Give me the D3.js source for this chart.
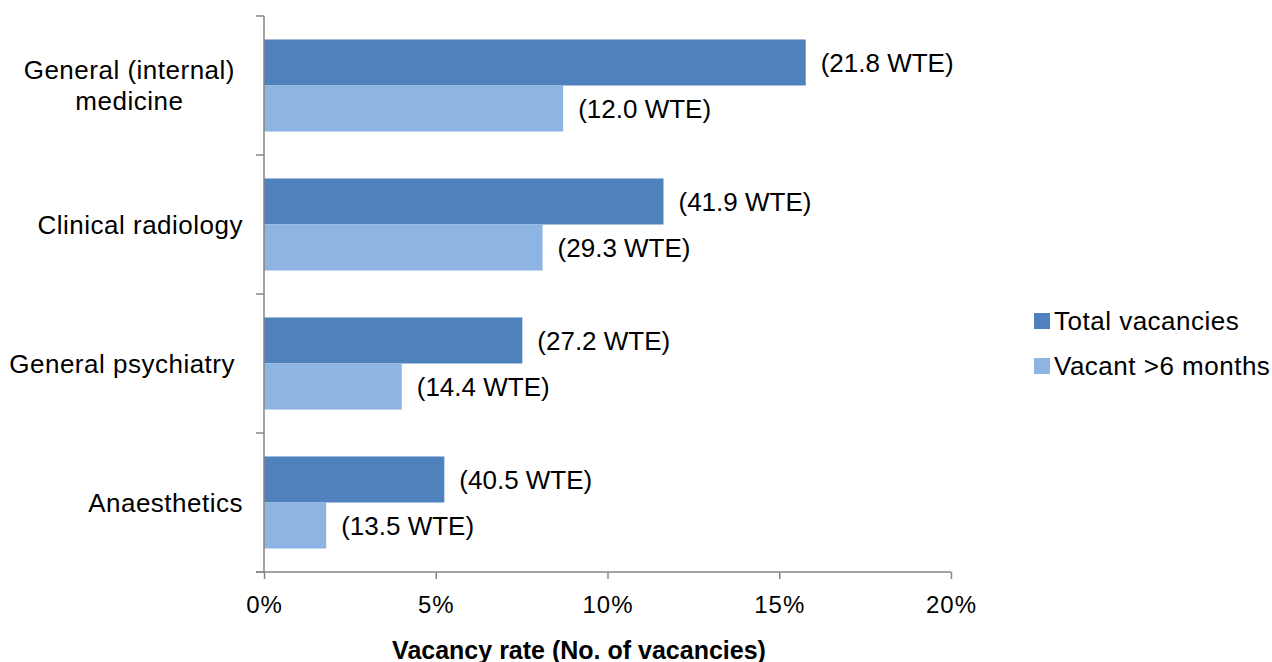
<!DOCTYPE html>
<html>
<head>
<meta charset="utf-8">
<script src="https://cdn.jsdelivr.net/npm/d3@7"></script>
<style>
  body { margin: 0; background: #fff; }
  svg text { font-family: "Liberation Sans", Arial, sans-serif; fill: #000; }
</style>
</head>
<body>
<div class="graph"></div>
<script>
// Data
var categories = ["General (internal)\nmedicine", "Clinical radiology", "General psychiatry", "Anaesthetics"];
var seriesNames = ["Total vacancies", "Vacant >6 months"];
var totalRate = [15.77, 11.63, 7.52, 5.25];      // % vacancy rate
var vacant6Rate = [8.71, 8.11, 4.01, 1.81];
var totalWte = ["(21.8 WTE)", "(41.9 WTE)", "(27.2 WTE)", "(40.5 WTE)"];
var vacant6Wte = ["(12.0 WTE)", "(29.3 WTE)", "(14.4 WTE)", "(13.5 WTE)"];
var xTicks = [0, 5, 10, 15, 20];
var colors = ["#4f81bd", "#8eb4e3"];

graph();

function graph() {
  var width = 1272, height = 662;
  var left = 264, right = 951, top = 16, bottom = 572;
  var axisColor = "#868686";

  var svg = d3.select(".graph")
    .append("svg")
    .attr("width", width)
    .attr("height", height);

  var x = d3.scaleLinear().domain([0, 20]).range([left, right]);

  var y = d3.scaleBand()
    .domain(categories)
    .range([top, bottom])
    .padding(0);

  // bars inside a category band
  var sub = d3.scaleBand()
    .domain([0, 1])
    .range([0, y.bandwidth()])
    .paddingInner(0)
    .paddingOuter(0.51);

  var rows = categories.map(function(c, i) {
    return {cat: c, vals: [totalRate[i], vacant6Rate[i]], labs: [totalWte[i], vacant6Wte[i]]};
  });

  // bars
  var groups = svg.selectAll(".cat")
    .data(rows)
    .enter()
    .append("g")
    .attr("class", "cat")
    .attr("transform", function(d) { return "translate(0," + y(d.cat) + ")"; });

  groups.selectAll("rect")
    .data(function(d) { return d.vals.map(function(v, k) { return {v: v, k: k}; }); })
    .enter()
    .append("rect")
    .attr("x", x(0))
    .attr("y", function(d) { return sub(d.k); })
    .attr("width", function(d) { return x(d.v) - x(0); })
    .attr("height", sub.bandwidth())
    .style("fill", function(d) { return colors[d.k]; });

  groups.selectAll(".lab")
    .data(function(d) { return d.vals.map(function(v, k) { return {v: v, k: k, t: d.labs[k]}; }); })
    .enter()
    .append("text")
    .attr("class", "lab")
    .attr("x", function(d) { return x(d.v) + 15; })
    .attr("y", function(d) { return sub(d.k) + sub.bandwidth() / 2; })
    .attr("dy", "0.36em")
    .style("font-size", "26px")
    .text(function(d) { return d.t; });

  // y axis (Excel style: ticks between categories)
  svg.append("line")
    .attr("x1", left).attr("x2", left)
    .attr("y1", top).attr("y2", bottom)
    .style("stroke", axisColor).style("stroke-width", 1.5);

  var bounds = categories.map(function(c) { return y(c); }).concat([bottom]);
  svg.selectAll(".ytick")
    .data(bounds)
    .enter()
    .append("line")
    .attr("x1", left - 8).attr("x2", left)
    .attr("y1", function(d) { return d; }).attr("y2", function(d) { return d; })
    .style("stroke", axisColor).style("stroke-width", 1.5);

  var catLabels = svg.selectAll(".ylab")
    .data(categories)
    .enter()
    .append("text")
    .attr("class", "ylab")
    .style("font-size", "26px")
    .style("letter-spacing", "0.5px")
    .attr("text-anchor", "middle");

  catLabels.each(function(c) {
    var t = d3.select(this);
    var lines = c.split("\n");
    var lh = 31;
    var cy = y(c) + y.bandwidth() / 2 - (lines.length - 1) * lh / 2;
    var rightEdge = (c === "Clinical radiology" || c === "Anaesthetics") ? 243 : 235;
    var spans = lines.map(function(s, i) {
      return t.append("tspan").attr("x", 0).attr("y", cy + i * lh).attr("dy", "0.36em").text(s);
    });
    var w = d3.max(spans, function(sp) { return sp.node().getComputedTextLength(); });
    spans.forEach(function(sp) { sp.attr("x", rightEdge - w / 2); });
  });

  // x axis
  var xAxis = svg.append("g")
    .attr("transform", "translate(0," + bottom + ")")
    .call(d3.axisBottom(x).tickValues(xTicks).tickSize(7).tickPadding(17)
      .tickFormat(function(d) { return d + "%"; }));
  xAxis.select(".domain").remove();
  xAxis.append("line")
    .attr("x1", left - 8).attr("x2", right)
    .style("stroke", axisColor).style("stroke-width", 1.5);
  xAxis.selectAll(".tick line").style("stroke", axisColor).style("stroke-width", 1.5);
  xAxis.selectAll(".tick text")
    .style("font-size", "24px")
    .style("letter-spacing", "1px")
    .style("font-family", "'Liberation Sans', Arial, sans-serif")
    .attr("fill", "#000");

  svg.append("text")
    .attr("x", 579)
    .attr("y", 659)
    .attr("text-anchor", "middle")
    .style("font-size", "25px")
    .style("font-weight", "bold")
    .text("Vacancy rate (No. of vacancies)");

  // legend
  var legend = svg.selectAll(".legend")
    .data(seriesNames)
    .enter()
    .append("g")
    .attr("class", "legend")
    .attr("transform", function(d, i) { return "translate(1034," + (321 + i * 45) + ")"; });

  legend.append("rect")
    .attr("x", 0).attr("y", -8)
    .attr("width", 16).attr("height", 16)
    .style("fill", function(d, i) { return colors[i]; });

  legend.append("text")
    .attr("x", 20)
    .attr("dy", "0.36em")
    .style("font-size", "26px")
    .style("letter-spacing", "0.5px")
    .text(function(d) { return d; });
}
</script>
</body>
</html>
